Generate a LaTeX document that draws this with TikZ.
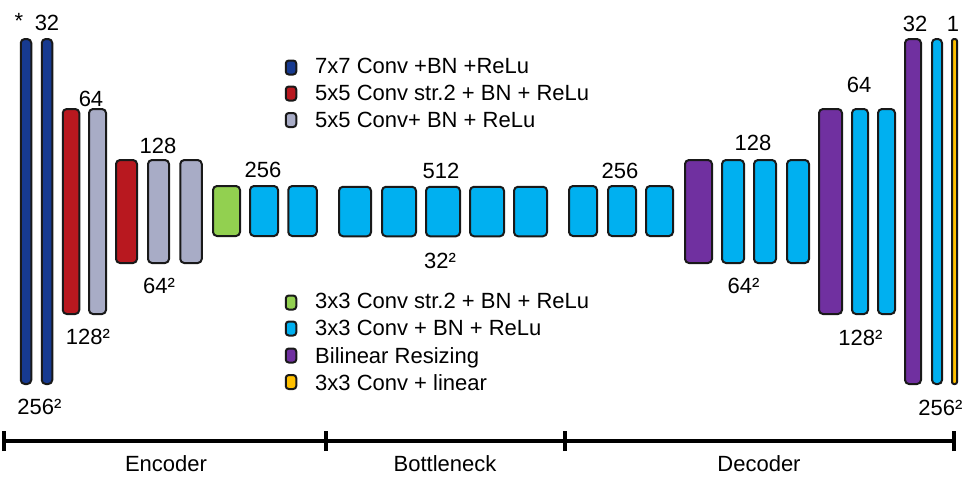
\documentclass[tikz,border=0pt]{standalone}
\usepackage{fontspec}
\setmainfont{Liberation Sans}
\definecolor{cblue}{HTML}{173A90}
\definecolor{cred}{HTML}{B8181F}
\definecolor{cgray}{HTML}{A8ACC6}
\definecolor{cgreen}{HTML}{92D050}
\definecolor{ccyan}{HTML}{00B0F0}
\definecolor{cpurple}{HTML}{7030A0}
\definecolor{cyellow}{HTML}{FFC000}
\tikzset{
  blk/.style={draw=black!90, line width=2pt, rounded corners=4pt, inner sep=0pt, outer sep=0pt},
  lbl/.style={font=\fontsize{22}{26}\selectfont, inner sep=0pt, anchor=base},
  leg/.style={font=\fontsize{22}{26}\selectfont, inner sep=0pt, anchor=base west},
  legbox/.style={blk, rounded corners=3pt, minimum width=10.5pt, minimum height=14pt},
  axisline/.style={line width=3.5pt},
}
\begin{document}
\begin{tikzpicture}[x=1pt,y=-1pt]
\useasboundingbox (0,0) rectangle (976,491);
% Encoder
\node[blk, fill=cblue, minimum width=10.5pt, minimum height=345pt] (e1) at (26,211.5) {};
\node[blk, fill=cblue, minimum width=10.5pt, minimum height=345pt] (e2) at (47,211.5) {};
\node[blk, fill=cred, minimum width=16.5pt, minimum height=205pt] (e3) at (71,211.5) {};
\node[blk, fill=cgray, minimum width=17pt, minimum height=205pt] (e4) at (97.5,211.5) {};
\node[blk, fill=cred, minimum width=21pt, minimum height=103pt] (e5) at (126.5,211.5) {};
\node[blk, fill=cgray, minimum width=21pt, minimum height=103pt] (e6) at (158.5,211.5) {};
\node[blk, fill=cgray, minimum width=21.5pt, minimum height=103pt] (e7) at (191,211.5) {};
\node[blk, fill=cgreen, minimum width=27pt, minimum height=50pt] (e8) at (226.5,211) {};
\node[blk, fill=ccyan, minimum width=28pt, minimum height=50pt] (e9) at (264,211) {};
\node[blk, fill=ccyan, minimum width=28.5pt, minimum height=50pt] (e10) at (302.5,211) {};
% Bottleneck
\node[blk, fill=ccyan, minimum width=32pt, minimum height=49.5pt] (b1) at (355,211.5) {};
\node[blk, fill=ccyan, minimum width=34pt, minimum height=49.5pt] (b2) at (399,211.5) {};
\node[blk, fill=ccyan, minimum width=34pt, minimum height=49.5pt] (b3) at (443,211.5) {};
\node[blk, fill=ccyan, minimum width=34pt, minimum height=49.5pt] (b4) at (487,211.5) {};
\node[blk, fill=ccyan, minimum width=33pt, minimum height=49.5pt] (b5) at (530.5,211.5) {};
% Decoder
\node[blk, fill=ccyan, minimum width=28pt, minimum height=50pt] (d1) at (583,211) {};
\node[blk, fill=ccyan, minimum width=28pt, minimum height=50pt] (d2) at (622,211) {};
\node[blk, fill=ccyan, minimum width=27pt, minimum height=50pt] (d3) at (659.5,211) {};
\node[blk, fill=cpurple, minimum width=27pt, minimum height=103pt] (d4) at (698.5,211.5) {};
\node[blk, fill=ccyan, minimum width=22pt, minimum height=103pt] (d5) at (733,211.5) {};
\node[blk, fill=ccyan, minimum width=22pt, minimum height=103pt] (d6) at (765,211.5) {};
\node[blk, fill=ccyan, minimum width=22pt, minimum height=103pt] (d7) at (798,211.5) {};
\node[blk, fill=cpurple, minimum width=23pt, minimum height=205pt] (d8) at (830.5,211.5) {};
\node[blk, fill=ccyan, minimum width=16pt, minimum height=205pt] (d9) at (860,211.5) {};
\node[blk, fill=ccyan, minimum width=17pt, minimum height=205pt] (d10) at (886.5,211.5) {};
\node[blk, fill=cpurple, minimum width=16pt, minimum height=345pt] (d11) at (913,211.5) {};
\node[blk, fill=ccyan, minimum width=10pt, minimum height=345pt] (d12) at (937,211.5) {};
\node[blk, rounded corners=2pt, fill=cyellow, minimum width=5pt, minimum height=345pt] (d13) at (954.5,211.5) {};
% Top labels
\node[lbl] (tstar) at (19,28) {*};
\node[lbl] (t32a) at (47,30) {32};
\node[lbl] (t64a) at (91,106) {64};
\node[lbl] (t128a) at (158,153) {128};
\node[lbl] (t256a) at (263,177) {256};
\node[lbl] (t512) at (441,178) {512};
\node[lbl] (t256b) at (620,178) {256};
\node[lbl] (t128b) at (753,150) {128};
\node[lbl] (t64b) at (859,92) {64};
\node[lbl] (t32b) at (915,31) {32};
\node[lbl] (t1) at (953,31) {1};
% Bottom labels
\node[lbl] (s256a) at (39.5,414) {256²};
\node[lbl] (s128a) at (88,344) {128²};
\node[lbl] (s64a) at (159,293) {64²};
\node[lbl] (s32) at (440,268) {32²};
\node[lbl] (s64b) at (743.5,293) {64²};
\node[lbl] (s128b) at (860.5,345) {128²};
\node[lbl] (s256b) at (940.5,415) {256²};
% Legend
\node[legbox, fill=cblue] (l1) at (291,67.5) {};
\node[legbox, fill=cred] (l2) at (291,93.5) {};
\node[legbox, fill=cgray] (l3) at (291,120) {};
\node[leg] (lt1) at (315,73) {7x7 Conv +BN +ReLu};
\node[leg] (lt2) at (315,100) {5x5 Conv str.2 + BN + ReLu};
\node[leg] (lt3) at (315,127) {5x5 Conv+ BN + ReLu};
\node[legbox, fill=cgreen] (l4) at (291,302.5) {};
\node[legbox, fill=ccyan] (l5) at (291,328.5) {};
\node[legbox, fill=cpurple] (l6) at (291,355.5) {};
\node[legbox, fill=cyellow] (l7) at (291,382) {};
\node[leg] (lt4) at (315,308) {3x3 Conv str.2 + BN + ReLu};
\node[leg] (lt5) at (315,335) {3x3 Conv + BN + ReLu};
\node[leg] (lt6) at (315,363) {Bilinear Resizing};
\node[leg] (lt7) at (315,390) {3x3 Conv + linear};
% Axis
\coordinate (a0) at (4,441);
\coordinate (a1) at (326,441);
\coordinate (a2) at (565,441);
\coordinate (a3) at (954,441);
\draw[axisline] (a0) -- (a3);
\foreach \c in {a0,a1,a2,a3} {
  \draw[axisline] ([yshift=-10pt]\c) -- ([yshift=10pt]\c);
}
\node[lbl] (enc) at (166,471) {Encoder};
\node[lbl] (bot) at (445,471) {Bottleneck};
\node[lbl] (dec) at (759,471) {Decoder};
\end{tikzpicture}
\end{document}
